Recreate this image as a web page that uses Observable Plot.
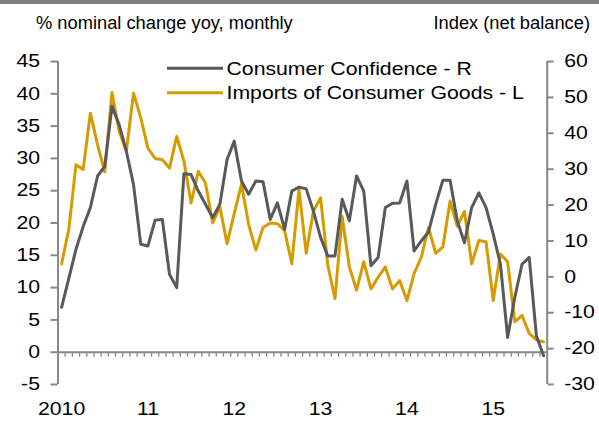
<!DOCTYPE html>
<html>
<head>
<meta charset="utf-8">
<script src="https://cdn.jsdelivr.net/npm/d3@7"></script>
<script src="https://cdn.jsdelivr.net/npm/@observablehq/plot@0.6"></script>
<style>
html,body{margin:0;padding:0;background:#fff;}
#page{position:relative;width:599px;height:422px;overflow:hidden;font-family:"Liberation Sans",Arial,sans-serif;}
#header{display:block;}
#chart svg{display:block;}
#legend{position:absolute;left:0;top:0;}
</style>
</head>
<body>
<div id="page">
  <svg id="header" width="599" height="40"></svg>
  <div id="chart"></div>
  <svg id="legend" width="599" height="110"></svg>
</div>
<script>
// ---- texts ----
const leftAxisTitle = "% nominal change yoy, monthly";
const rightAxisTitle = "Index (net balance)";
const seriesNames = ["Consumer Confidence - R", "Imports of Consumer Goods - L"];

// ---- x categories (monthly, Jan 2010 - Aug 2015) ----
const yearLabels = ["2010", "11", "12", "13", "14", "15"];
const yearStartIndex = [0, 12, 24, 36, 48, 60];

// ---- axis ticks ----
const leftTicks = [-5, 0, 5, 10, 15, 20, 25, 30, 35, 40, 45];
const rightTicks = [-30, -20, -10, 0, 10, 20, 30, 40, 50, 60];
const leftDomain = [-5, 45];
const rightDomain = [-30, 60];

// ---- series ----
// Consumer Confidence, index (net balance), right axis
const confidence = [
  -8.5, -0.5, 7.7, 14.0, 19.3, 28.1, 30.8, 47.5, 42.4, 35.0, 25.7, 9.1,
  8.6, 15.8, 16.0, 0.7, -3.0, 28.7, 28.5, 23.9, 20.2, 16.5, 20.2, 32.7,
  37.8, 26.7, 23.0, 26.7, 26.5, 16.0, 20.6, 13.2, 23.9, 25.0, 24.5, 18.3,
  11.0, 5.8, 5.8, 21.6, 15.6, 28.1, 23.9, 3.1, 5.4, 19.3, 20.5, 20.6,
  26.7, 7.2, 10.0, 12.5, 20.2, 26.9, 26.9, 15.6, 9.5, 19.3, 23.4, 19.3,
  11.9, 3.5, -16.9, -5.7, 3.5, 5.4, -16.5, -22.0
];
// Imports of Consumer Goods, % nominal change yoy, left axis
const imports = [
  13.7, 19.0, 29.0, 28.3, 37.0, 32.1, 27.9, 40.2, 34.2, 31.1, 40.1, 36.3,
  31.6, 30.0, 29.8, 28.5, 33.4, 29.6, 23.1, 28.0, 26.2, 20.0, 22.5, 16.8,
  21.5, 26.0, 19.8, 15.8, 19.3, 20.0, 19.9, 18.8, 13.7, 25.2, 15.3, 21.8,
  23.9, 13.5, 8.3, 21.0, 13.2, 9.6, 14.0, 9.8, 11.6, 13.2, 9.8, 11.1,
  8.0, 12.2, 14.7, 19.3, 15.3, 16.3, 23.4, 19.5, 21.8, 13.7, 17.3, 17.1,
  8.0, 15.2, 14.0, 4.7, 5.7, 2.9, 1.9, 1.6
];

const AXIS = "#888888", GRAY = "#595959", GOLD = "#d69b00";
const FONT = '"Liberation Sans", Arial, sans-serif';
const SX = 1.18; // horizontal stretch of the chart's text

const toLeft = r => leftDomain[0] + (r - rightDomain[0]) * (leftDomain[1] - leftDomain[0]) / (rightDomain[1] - rightDomain[0]);
const fromLeft = v => rightDomain[0] + (v - leftDomain[0]) * (rightDomain[1] - rightDomain[0]) / (leftDomain[1] - leftDomain[0]);

const n = imports.length;
const xDomain = [-0.5, n - 0.5];
const boundaries = d3.range(1, n).map(i => i - 0.5);

// ---- header ----
const hdr = d3.select("#header").style("font-family", FONT);
hdr.append("rect").attr("x", 0).attr("y", 0).attr("width", 599).attr("height", 4).attr("fill", "#808080");
hdr.append("text").attr("x", 36).attr("y", 29.3).attr("font-size", 18.3).attr("fill", "#000").text(leftAxisTitle);
hdr.append("text").attr("x", 590).attr("y", 29.3).attr("font-size", 18.3).attr("text-anchor", "end").attr("fill", "#000").text(rightAxisTitle);

// ---- chart ----
const chart = Plot.plot({
  width: 599,
  height: 382,
  marginTop: 21,
  marginBottom: 38,
  marginLeft: 57.5,
  marginRight: 52.3,
  x: {domain: xDomain, axis: null},
  y: {domain: leftDomain, axis: null},
  style: {fontFamily: FONT, fontSize: "18px", color: "#000", background: "#fff", overflow: "visible"},
  marks: [
    Plot.ruleY([0], {stroke: AXIS, strokeWidth: 2}),
    Plot.ruleX(boundaries, {y1: 0, y2: 0, insetBottom: -5, stroke: AXIS, strokeWidth: 1.3}),
    Plot.ruleX([xDomain[0]], {stroke: AXIS, strokeWidth: 2}),
    Plot.ruleX([xDomain[1]], {stroke: AXIS, strokeWidth: 2}),
    Plot.axisY(leftTicks, {anchor: "left", tickSize: 7, tickPadding: 11, stroke: AXIS, strokeWidth: 2, fill: "#000", tickFormat: d => String(d)}),
    Plot.axisY(rightTicks.map(toLeft), {anchor: "right", tickSize: 6, tickPadding: 11, stroke: AXIS, strokeWidth: 2, fill: "#000", tickFormat: d => String(Math.round(fromLeft(d)))}),
    Plot.axisX(yearStartIndex, {anchor: "bottom", tickSize: 0, tickPadding: 18, fill: "#000", tickFormat: d => yearLabels[yearStartIndex.indexOf(d)]}),
    Plot.line(imports, {x: (d, i) => i, y: d => d, stroke: GOLD, strokeWidth: 3, strokeLinejoin: "round"}),
    Plot.line(confidence, {x: (d, i) => i, y: d => toLeft(d), stroke: GRAY, strokeWidth: 3, strokeLinejoin: "round"})
  ]
});

chart.querySelectorAll("text").forEach(t => {
  const tr = t.getAttribute("transform") || "";
  const x = t.getAttribute("x");
  if (x != null) {
    t.removeAttribute("x");
    t.setAttribute("transform", `${tr} translate(${x},0) scale(${SX},1)`);
  } else {
    t.setAttribute("transform", `${tr} scale(${SX},1)`);
  }
});
document.getElementById("chart").appendChild(chart);

// ---- legend ----
const legendItems = [
  {name: seriesNames[0], color: GRAY, cy: 68.3},
  {name: seriesNames[1], color: GOLD, cy: 92.7}
];
const leg = d3.select("#legend").style("font-family", FONT);
const g = leg.selectAll("g").data(legendItems).join("g");
g.append("line").attr("x1", 167).attr("x2", 223).attr("y1", d => d.cy).attr("y2", d => d.cy)
  .attr("stroke", d => d.color).attr("stroke-width", 3);
g.append("text").attr("transform", d => `translate(226.5,${d.cy + 6.3}) scale(${SX},1)`)
  .attr("font-size", 18).attr("fill", "#000").text(d => d.name);
</script>
</body>
</html>
